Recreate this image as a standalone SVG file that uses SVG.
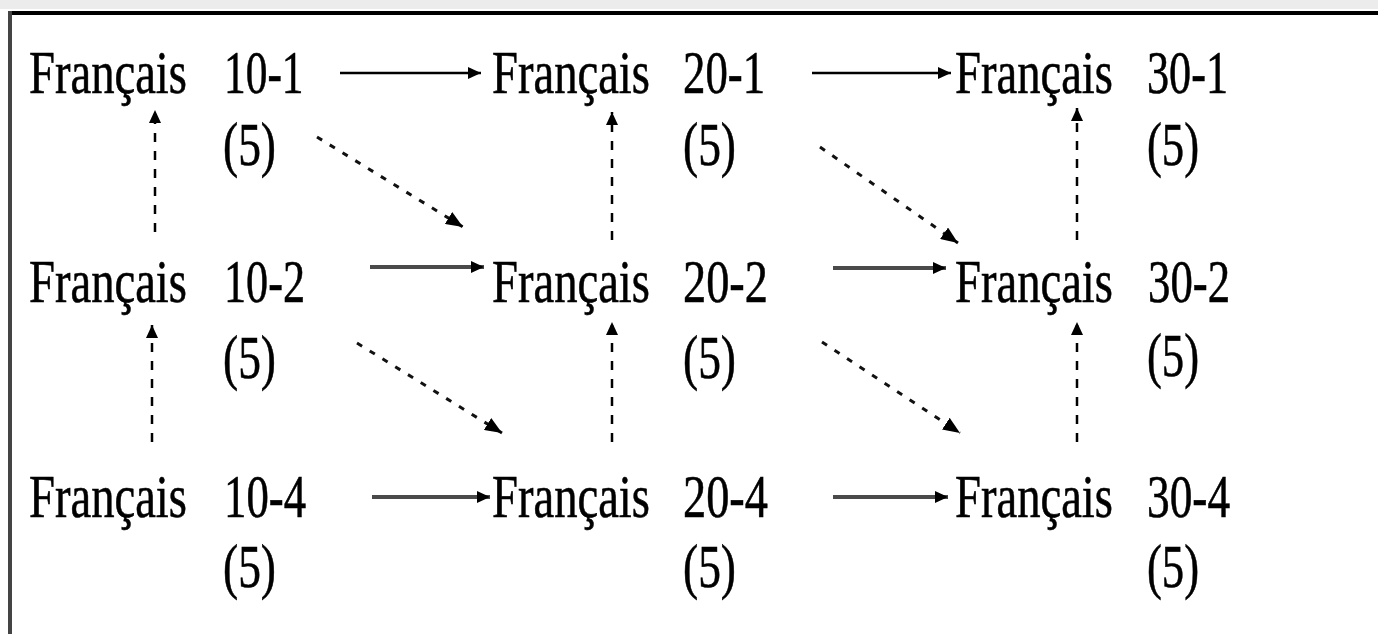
<svg xmlns="http://www.w3.org/2000/svg" width="1378" height="634" viewBox="0 0 1378 634">
<style>
text{font-family:"Liberation Serif","Times New Roman",serif;font-size:62px;fill:#000;stroke:#000;stroke-width:0.6}
.solid{stroke:#000;stroke-width:2.5;fill:none}
.thick{stroke:#4a4a4a;stroke-width:4;fill:none}
.vdash{stroke:#000;stroke-width:2.5;stroke-dasharray:9 9;fill:none}
.ddash{stroke:#111;stroke-width:3;stroke-dasharray:6 9;fill:none}
</style>
<defs>
<marker id="ah" markerUnits="userSpaceOnUse" markerWidth="14" markerHeight="12" refX="13" refY="6" orient="auto">
<path d="M0,0 L13,6 L0,12 z" fill="#000"/>
</marker>
<marker id="ahd" markerUnits="userSpaceOnUse" markerWidth="18" markerHeight="14" refX="17" refY="7" orient="auto">
<path d="M0,0 L17,7 L0,14 z" fill="#000"/>
</marker>
</defs>
<rect x="0" y="0" width="1378" height="634" fill="#fff"/>
<rect x="0" y="0" width="1378" height="9" fill="#ececec"/>
<g id="frame">
<line x1="8" y1="13" x2="1378" y2="13" stroke="#000" stroke-width="4"/>
<line x1="10" y1="11" x2="10" y2="634" stroke="#444" stroke-width="4"/>
</g>
<g id="n10-1"><text transform="translate(29,93) scale(0.752,1)">Français</text><text transform="translate(224,93) scale(0.70,1)">10-1</text><text transform="translate(223,165) scale(0.733,1)">(5)</text></g>
<g id="n20-1"><text transform="translate(492,93) scale(0.752,1)">Français</text><text transform="translate(683,93) scale(0.722,1)">20-1</text><text transform="translate(683,165) scale(0.733,1)">(5)</text></g>
<g id="n30-1"><text transform="translate(955,93) scale(0.752,1)">Français</text><text transform="translate(1147,93) scale(0.713,1)">30-1</text><text transform="translate(1147,165) scale(0.72,1)">(5)</text></g>
<g id="n10-2"><text transform="translate(29,302) scale(0.752,1)">Français</text><text transform="translate(224,302) scale(0.713,1)">10-2</text><text transform="translate(223,378) scale(0.733,1)">(5)</text></g>
<g id="n20-2"><text transform="translate(492,302) scale(0.752,1)">Français</text><text transform="translate(683,302) scale(0.748,1)">20-2</text><text transform="translate(683,378) scale(0.733,1)">(5)</text></g>
<g id="n30-2"><text transform="translate(955,302) scale(0.752,1)">Français</text><text transform="translate(1148,302) scale(0.722,1)">30-2</text><text transform="translate(1147,376) scale(0.72,1)">(5)</text></g>
<g id="n10-4"><text transform="translate(29,517) scale(0.752,1)">Français</text><text transform="translate(224,517) scale(0.722,1)">10-4</text><text transform="translate(223,587) scale(0.733,1)">(5)</text></g>
<g id="n20-4"><text transform="translate(492,517) scale(0.752,1)">Français</text><text transform="translate(683,517) scale(0.748,1)">20-4</text><text transform="translate(683,587) scale(0.733,1)">(5)</text></g>
<g id="n30-4"><text transform="translate(955,517) scale(0.752,1)">Français</text><text transform="translate(1147,517) scale(0.731,1)">30-4</text><text transform="translate(1147,587) scale(0.72,1)">(5)</text></g>
<g id="connectors">
<line class="solid" x1="340" y1="73" x2="481" y2="73" marker-end="url(#ah)"/>
<line class="solid" x1="812" y1="73" x2="951" y2="73" marker-end="url(#ah)"/>
<line class="thick" x1="370" y1="267" x2="484" y2="267" marker-end="url(#ah)"/>
<line class="thick" x1="833" y1="268" x2="946" y2="268" marker-end="url(#ah)"/>
<line class="thick" x1="372" y1="497" x2="490" y2="497" marker-end="url(#ah)"/>
<line class="thick" x1="833" y1="497" x2="948" y2="497" marker-end="url(#ah)"/>
<line class="vdash" x1="155" y1="232" x2="155" y2="110" marker-end="url(#ah)"/>
<line class="vdash" x1="152" y1="442" x2="152" y2="325" marker-end="url(#ah)"/>
<line class="vdash" x1="612" y1="240" x2="612" y2="112" marker-end="url(#ah)"/>
<line class="vdash" x1="612" y1="442" x2="612" y2="322" marker-end="url(#ah)"/>
<line class="vdash" x1="1077" y1="240" x2="1077" y2="108" marker-end="url(#ah)"/>
<line class="vdash" x1="1077" y1="442" x2="1077" y2="322" marker-end="url(#ah)"/>
<line class="ddash" x1="317" y1="137" x2="463" y2="227" marker-end="url(#ahd)"/>
<line class="ddash" x1="820" y1="147" x2="958" y2="243" marker-end="url(#ahd)"/>
<line class="ddash" x1="357" y1="343" x2="502" y2="433" marker-end="url(#ahd)"/>
<line class="ddash" x1="822" y1="342" x2="960" y2="433" marker-end="url(#ahd)"/>
</g>
</svg>
